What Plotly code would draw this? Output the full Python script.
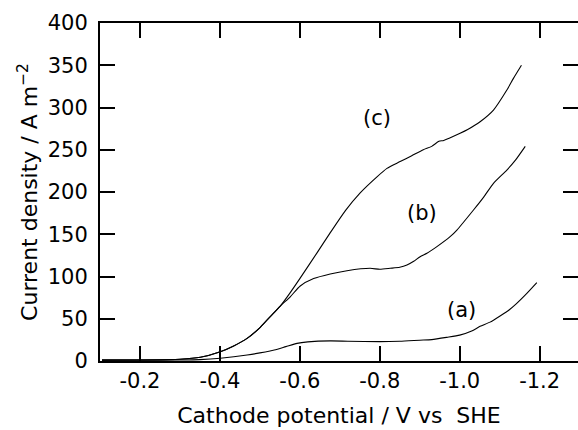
import plotly.graph_objects as go

# Data (potential in V vs SHE, current density in A m^-2)
v_a = [-0.105, -0.2, -0.3, -0.35, -0.401, -0.468, -0.536, -0.565, -0.593, -0.62, -0.676, -0.72, -0.8, -0.85, -0.9, -0.93, -0.968, -1.0, -1.03, -1.051, -1.076, -1.1, -1.125, -1.14, -1.168, -1.193]
i_a = [1.0, 1.0, 1.2, 1.6, 3.2, 7.1, 13.0, 17.0, 20.9, 22.6, 23.8, 23.4, 22.9, 23.4, 24.6, 25.3, 28.0, 30.6, 35.5, 41.0, 46.0, 53.0, 61.0, 67.0, 80.0, 92.7]

v_b = [-0.105, -0.2, -0.3, -0.351, -0.401, -0.4345, -0.468, -0.501, -0.526, -0.551, -0.576, -0.601, -0.6345, -0.676, -0.718, -0.776, -0.8, -0.826, -0.85, -0.868, -0.885, -0.901, -0.918, -0.943, -0.976, -0.993, -1.0345, -1.06, -1.0845, -1.118, -1.14, -1.164]
i_b = [1.0, 1.2, 2.0, 4.4, 11.0, 17.8, 26.8, 39.9, 52.5, 65.0, 76.0, 88.8, 97.5, 103.0, 106.9, 109.7, 108.5, 109.7, 111.0, 113.6, 118.0, 123.4, 127.4, 135.3, 147.1, 155.0, 178.7, 194.0, 210.3, 226.0, 238.0, 254.0]

v_c = [-0.105, -0.2, -0.3, -0.351, -0.401, -0.4345, -0.468, -0.501, -0.526, -0.551, -0.576, -0.6, -0.643, -0.675, -0.714, -0.751, -0.793, -0.818, -0.851, -0.88, -0.909, -0.93, -0.948, -0.96, -0.975, -1.001, -1.02, -1.051, -1.0845, -1.118, -1.1345, -1.1545]
i_c = [1.0, 1.2, 2.0, 4.4, 11.0, 17.8, 26.8, 39.9, 52.5, 65.0, 81.0, 97.5, 128.0, 151.0, 178.0, 199.0, 218.0, 228.0, 236.0, 243.0, 250.0, 254.0, 260.0, 261.0, 264.0, 269.5, 274.0, 283.2, 297.0, 320.7, 334.5, 350.0]

series_labels = ["(a)", "(b)", "(c)"]
label_x = [-1.0055, -0.9055, -0.793]
label_y = [60.4, 175.0, 287.6]

x_tickvals = [-0.2, -0.4, -0.6, -0.8, -1.0, -1.2]
x_ticktext = ["-0.2", "-0.4", "-0.6", "-0.8", "-1.0", "-1.2"]
y_tickvals = [0, 50, 100, 150, 200, 250, 300, 350, 400]
y_ticktext = ["0", "50", "100", "150", "200", "250", "300", "350", "400"]

FONT = "DejaVu Sans, Verdana, sans-serif"

fig = go.Figure()
for v, i in [(v_a, i_a), (v_b, i_b), (v_c, i_c)]:
    fig.add_trace(go.Scatter(x=v, y=i, mode="lines",
                             line=dict(color="black", width=1.1,
                                       shape="spline", smoothing=0.6),
                             showlegend=False, hoverinfo="skip"))
# empty trace to materialize the right-hand tick axis
fig.add_trace(go.Scatter(x=[], y=[], yaxis="y2", showlegend=False))

for t, x, y in zip(series_labels, label_x, label_y):
    fig.add_annotation(x=x, y=y, text=t, showarrow=False,
                       font=dict(family=FONT, size=21, color="black"))

fig.update_layout(
    width=578, height=430,
    margin=dict(l=100, r=0, t=23, b=69),
    paper_bgcolor="white", plot_bgcolor="white",
    font=dict(family=FONT, size=21, color="black"),
    xaxis=dict(range=[-0.1, -1.296], tickvals=x_tickvals, ticktext=x_ticktext,
               ticks="inside", ticklen=15, tickwidth=2, tickcolor="black",
               showline=True, linewidth=2, linecolor="black", mirror="ticks",
               showgrid=False, zeroline=False,
               title=dict(text="Cathode potential / V vs  SHE",
                          font=dict(family=FONT, size=22), standoff=15)),
    yaxis=dict(range=[0, 400], tickvals=y_tickvals, ticktext=y_ticktext,
               ticks="inside", ticklen=15, tickwidth=2, tickcolor="black",
               showline=True, linewidth=2, linecolor="black", mirror=False,
               showgrid=False, zeroline=False, ticklabelstandoff=6,
               title=dict(text="Current density / A m<sup>−2</sup>",
                          font=dict(family=FONT, size=22), standoff=4)),
    yaxis2=dict(range=[0, 400], overlaying="y", side="right",
                tickvals=y_tickvals, ticks="inside", ticklen=15, tickwidth=2,
                tickcolor="black", showticklabels=False, showline=False,
                showgrid=False, zeroline=False),
)

fig.write_html("out.html")
